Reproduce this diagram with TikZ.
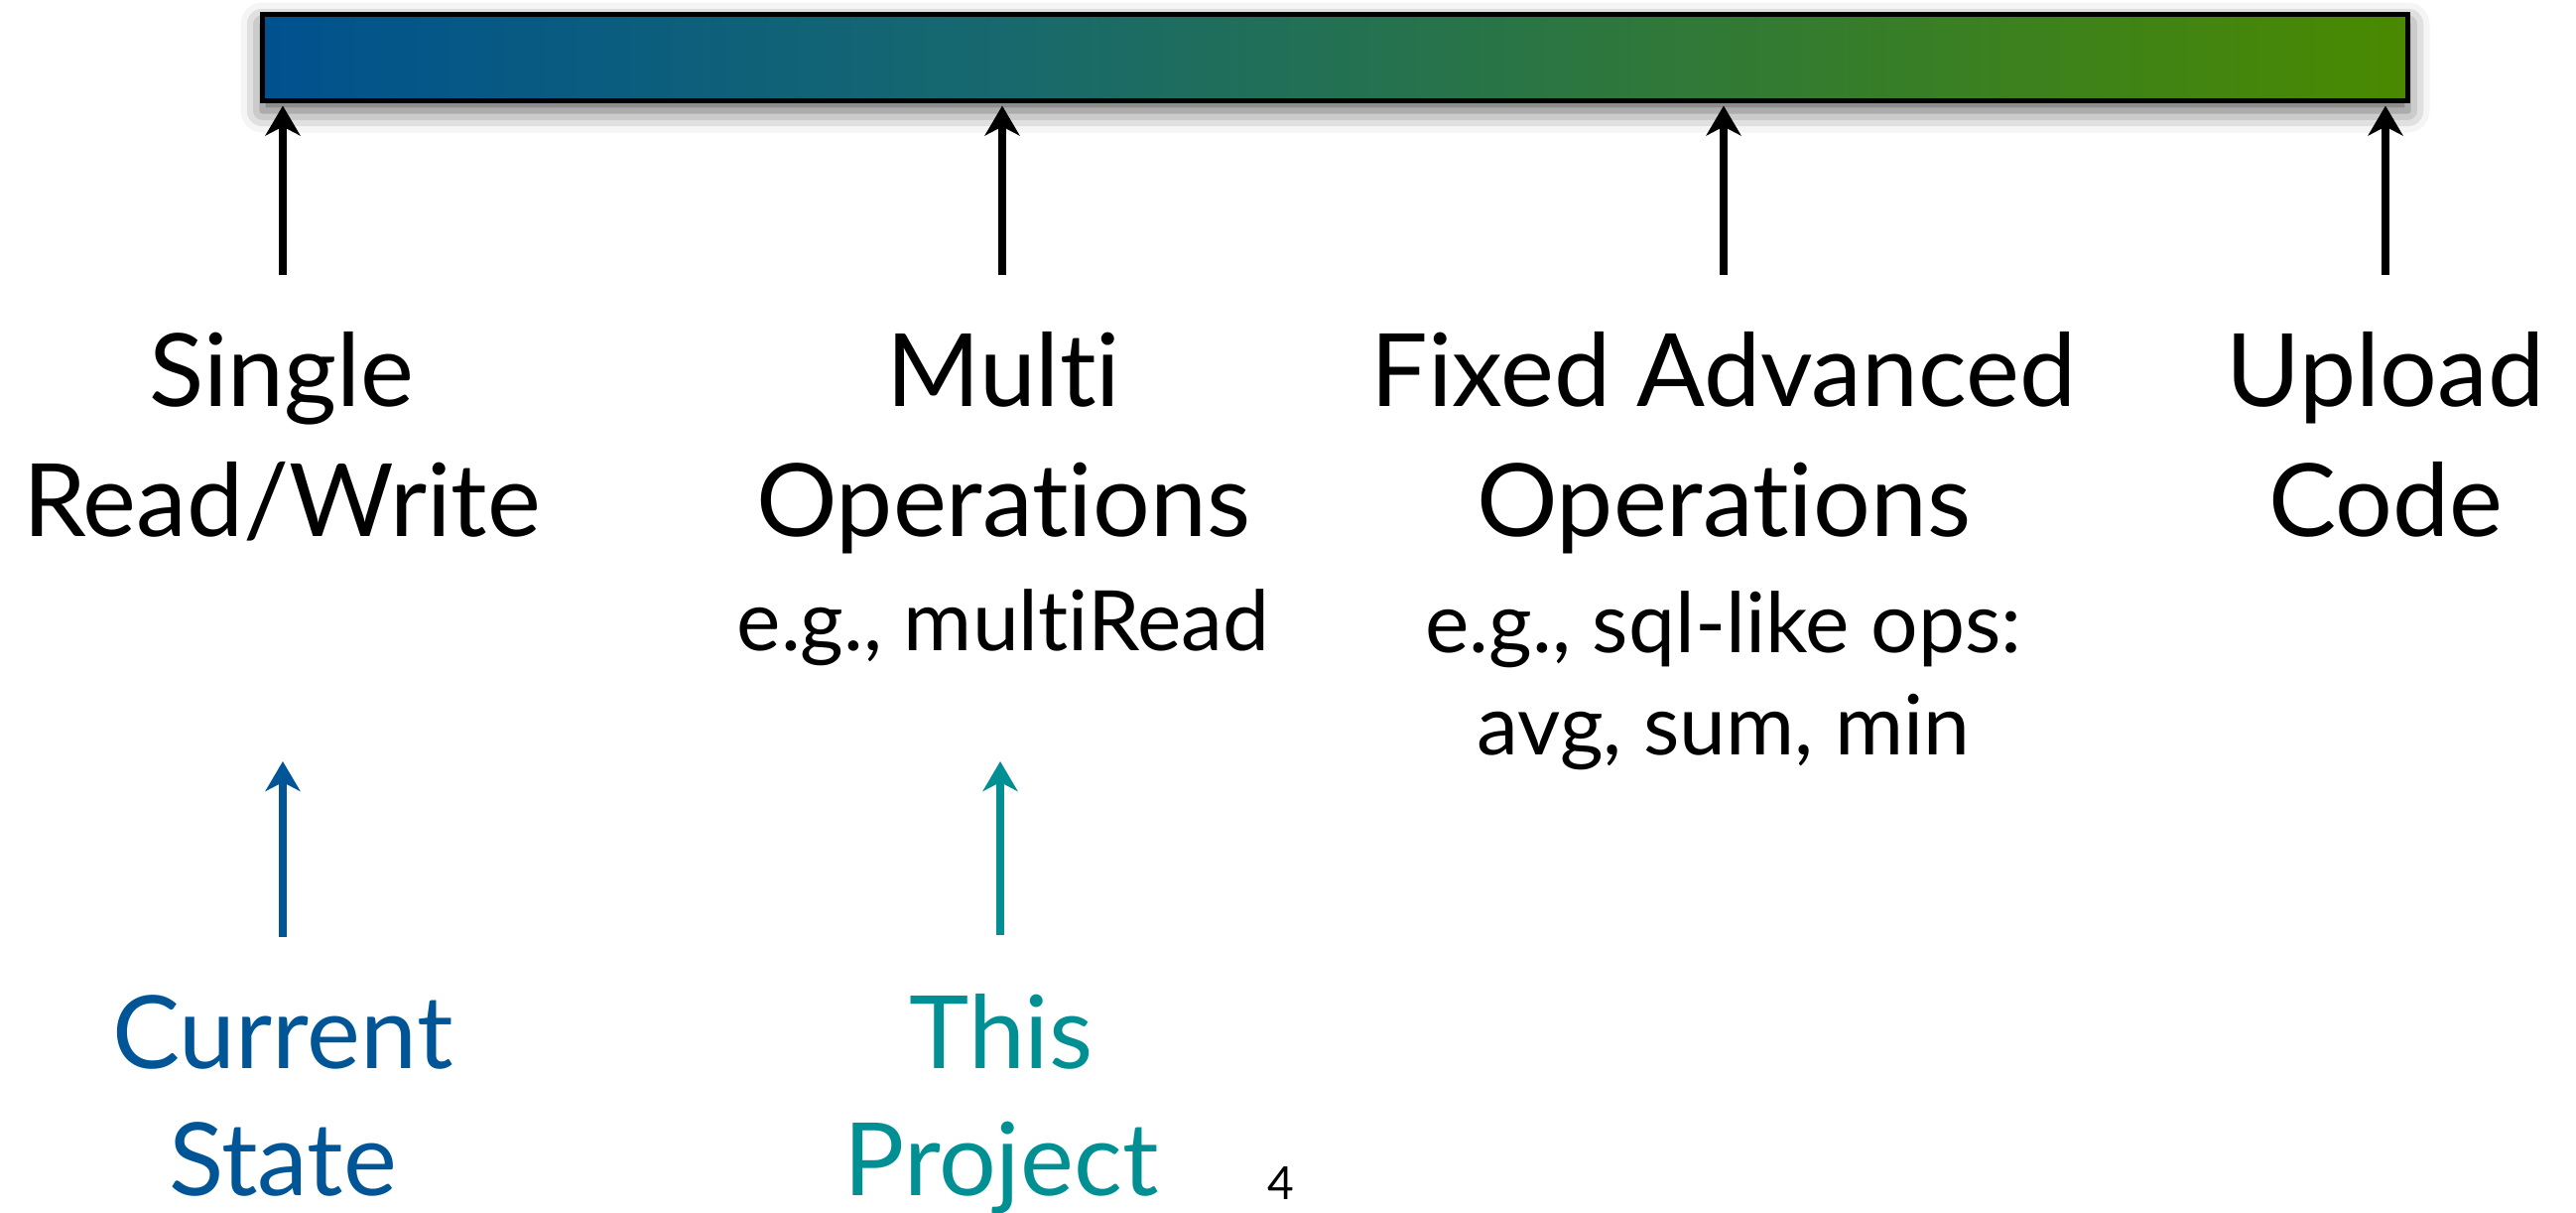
\documentclass[tikz,border=0pt]{standalone}
\usepackage{fontspec}
\setmainfont{Lato}[Ligatures={NoCommon}]
\usetikzlibrary{arrows.meta,shadows.blur}

\definecolor{curblue}{RGB}{0,85,150}
\definecolor{projteal}{RGB}{0,143,147}

% blue-to-green spectrum; the path spans 25bp..75bp
\pgfdeclarehorizontalshading{spectrum}{100bp}{%
  rgb(0bp)=(0,0.32,0.56); rgb(25bp)=(0,0.32,0.56);
  rgb(42bp)=(0.09,0.41,0.43);
  rgb(75bp)=(0.29,0.54,0); rgb(100bp)=(0.29,0.54,0)}

\tikzset{
  spectrumbar/.style={draw=black, line width=5pt, inner sep=0pt,
    minimum width=2162pt, minimum height=87pt, shading=spectrum,
    blur shadow={shadow xshift=0pt, shadow yshift=-10pt,
      shadow blur radius=22pt, shadow opacity=65}},
  bigtext/.style={anchor=base, inner sep=0pt, font=\fontsize{102}{122}\selectfont},
  smalltext/.style={anchor=base, inner sep=0pt, font=\fontsize{84}{100}\selectfont},
  tip/.style={-{Stealth[length=30pt,width=35pt,inset=9pt]}},
  levelarrow/.style={tip, line width=8.5pt, draw=black},
  pointer/.style={tip, line width=8pt},
}

\begin{document}
\begin{tikzpicture}[x=1pt, y=-1pt]
  \useasboundingbox (0,0) rectangle (2596,1221);

  % the scale
  \node[spectrumbar] (bar) at (1345.5,58) {};

  % level labels
  \node[bigtext] (single)  at (284,409)  {Single};
  \node[bigtext] (rw)      at (284,540)  {Read/Write};

  \node[bigtext] (multi)   at (1011,409) {Multi};
  \node[bigtext] (mops)    at (1011,540) {Operations};
  \node[smalltext] (mex)   at (1011,655) {e.g., multiRead};

  \node[bigtext] (fixed)   at (1737,409) {Fixed Advanced};
  \node[bigtext] (fops)    at (1737,540) {Operations};
  \node[smalltext] (fex1)  at (1737,657) {e.g., sql-like ops:};
  \node[smalltext] (fex2)  at (1737,760) {avg, sum, min};

  \node[bigtext] (upload)  at (2404,409) {Upload};
  \node[bigtext] (code)    at (2404,540) {Code};

  % markers
  \node[bigtext, text=curblue]  (cur)   at (285,1076)  {Current};
  \node[bigtext, text=curblue]  (state) at (285,1204)  {State};
  \node[bigtext, text=projteal] (this)  at (1009,1076) {This};
  \node[bigtext, text=projteal] (proj)  at (1009,1204) {Project};

  \node[anchor=base, inner sep=0pt, font=\fontsize{46}{54}\selectfont] (pagenum) at (1291,1208) {4};

  % arrow feet
  \coordinate (f1) at (285,277);
  \coordinate (f2) at (1010,277);
  \coordinate (f3) at (1737,277);
  \coordinate (f4) at (2404,277);
  \coordinate (fc) at (285,944);
  \coordinate (fp) at (1008,942);
  \coordinate (tc) at (285,767);
  \coordinate (tp) at (1008,767);

  \draw[levelarrow] (f1) -- ([yshift=-2.5pt]f1 |- bar.south);
  \draw[levelarrow] (f2) -- ([yshift=-2.5pt]f2 |- bar.south);
  \draw[levelarrow] (f3) -- ([yshift=-2.5pt]f3 |- bar.south);
  \draw[levelarrow] (f4) -- ([yshift=-2.5pt]f4 |- bar.south);

  \draw[pointer, draw=curblue, fill=curblue]   (fc) -- (tc);
  \draw[pointer, draw=projteal, fill=projteal] (fp) -- (tp);
\end{tikzpicture}
\end{document}
